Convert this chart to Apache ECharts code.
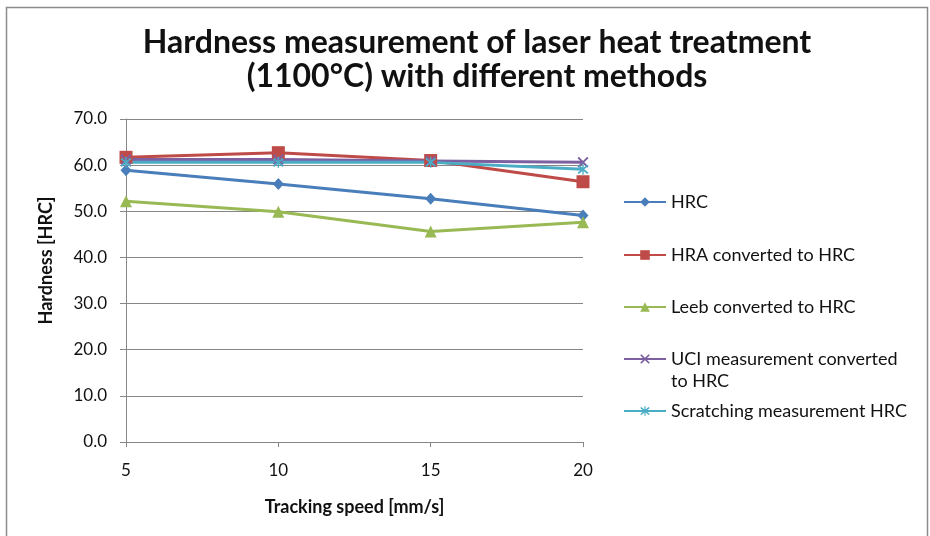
<!DOCTYPE html>
<html>
<head>
<meta charset="utf-8">
<script src="https://cdn.jsdelivr.net/npm/echarts@6/dist/echarts.min.js"></script>
<style>
  html, body { margin: 0; padding: 0; background: #fff; }
  #chart { width: 930px; height: 536px; }
</style>
</head>
<body>
<div id="chart"></div>
<script>
// Tracking speeds (mm/s) on the x axis
const speeds = ['5', '10', '15', '20'];

// Hardness readings in HRC for each measuring method
const hrc        = [58.9, 55.9, 52.7, 49.1];
const hraToHrc   = [61.7, 62.7, 61.0, 56.4];
const leebToHrc  = [52.2, 49.9, 45.6, 47.6];
const uciToHrc   = [61.2, 61.2, 60.9, 60.6];
const scratchHrc = [60.6, 60.6, 60.6, 59.1];

const seriesNames = [
  'HRC',
  'HRA converted to HRC',
  'Leeb converted to HRC',
  'UCI measurement converted to HRC',
  'Scratching measurement HRC'
];

// Y axis range and step
const yMin = 0, yMax = 70, yStep = 10;

const FONT = 'Lato, "Open Sans", sans-serif';
const TEXT = '#111';

// Cross and asterisk marker outlines (filled polygons)
const crossPath = 'path://M0,1.2L1.2,0L5,3.8L8.8,0L10,1.2L6.2,5L10,8.8L8.8,10L5,6.2L1.2,10L0,8.8L3.8,5Z';
const starPath = 'path://M0,1.2L1.2,0L5,3.8L8.8,0L10,1.2L6.2,5L10,8.8L8.8,10L5,6.2L1.2,10L0,8.8L3.8,5Z' +
                 'M4.4,-1L5.6,-1L5.6,11L4.4,11Z';

const styles = [
  { color: '#4A7EBB', symbol: 'diamond',  size: [11, 12] },
  { color: '#BE4B48', symbol: 'rect',     size: 13 },
  { color: '#98B954', symbol: 'triangle', size: 12 },
  { color: '#7D60A0', symbol: crossPath,  size: 11 },
  { color: '#4BACC6', symbol: starPath,   size: 11 }
];
const values = [hrc, hraToHrc, leebToHrc, uciToHrc, scratchHrc];

const series = seriesNames.map((name, i) => ({
  name: name,
  type: 'line',
  data: values[i],
  symbol: styles[i].symbol,
  symbolSize: styles[i].size,
  showAllSymbol: true,
  lineStyle: { color: styles[i].color, width: 3 },
  itemStyle: { color: styles[i].color },
  emphasis: { disabled: true },
  animation: false
}));

// One legend block per entry so each sits at its own height.
// The wrapped entry gets a blank first line so its marker lines up
// with the first line of text.
const legendTops = [186, 239, 291, 321, 395];
const legends = seriesNames.map((name, i) => ({
  data: [name],
  orient: 'vertical',
  left: 618,
  top: legendTops[i],
  itemWidth: 42,
  itemHeight: 12,
  itemGap: 0,
  selectedMode: false,
  formatter: i === 3 ? ' \nUCI measurement converted\nto HRC' : '{name}',
  textStyle: {
    fontFamily: FONT,
    fontSize: 18,
    color: TEXT,
    lineHeight: 22
  }
}));

const chart = echarts.init(document.getElementById('chart'), null, { renderer: 'canvas' });
chart.setOption({
  backgroundColor: '#fff',
  animation: false,
  color: styles.map(s => s.color),
  title: {
    text: 'Hardness measurement of laser heat treatment\n(1100°C) with different methods',
    left: 472,
    textAlign: 'center',
    top: 21,
    textStyle: {
      fontFamily: FONT,
      fontSize: 32,
      fontWeight: 'bold',
      color: TEXT,
      lineHeight: 34
    }
  },
  graphic: [{
    type: 'rect',
    shape: { x: 6.5, y: 7.5, width: 921, height: 600 },
    style: { fill: 'none', stroke: '#8c8c8c', lineWidth: 1.5 },
    silent: true,
    z: -1
  }],
  legend: legends,
  grid: { left: 126, right: 347, top: 119, bottom: 94 },
  xAxis: {
    type: 'category',
    data: speeds,
    boundaryGap: false,
    name: 'Tracking speed [mm/s]',
    nameLocation: 'middle',
    nameGap: 56,
    nameTextStyle: { fontFamily: FONT, fontSize: 18, fontWeight: 'bold', color: TEXT },
    axisLine: { lineStyle: { color: '#868686', width: 1 } },
    axisTick: { show: true, length: 5, lineStyle: { color: '#868686' } },
    axisLabel: { fontFamily: FONT, fontSize: 17, color: TEXT, margin: 20 }
  },
  yAxis: {
    type: 'value',
    min: yMin,
    max: yMax,
    interval: yStep,
    name: 'Hardness [HRC]',
    nameLocation: 'middle',
    nameGap: 71,
    nameTextStyle: { fontFamily: FONT, fontSize: 18, fontWeight: 'bold', color: TEXT, padding: [0, 0, 0, 40] },
    axisLine: { show: true, lineStyle: { color: '#868686', width: 1 } },
    axisTick: { show: true, length: 6, lineStyle: { color: '#868686' } },
    axisLabel: {
      fontFamily: FONT, fontSize: 17, color: TEXT, margin: 19,
      formatter: v => v.toFixed(1)
    },
    splitLine: { lineStyle: { color: '#868686', width: 1 } }
  },
  series: series
});
</script>
</body>
</html>
